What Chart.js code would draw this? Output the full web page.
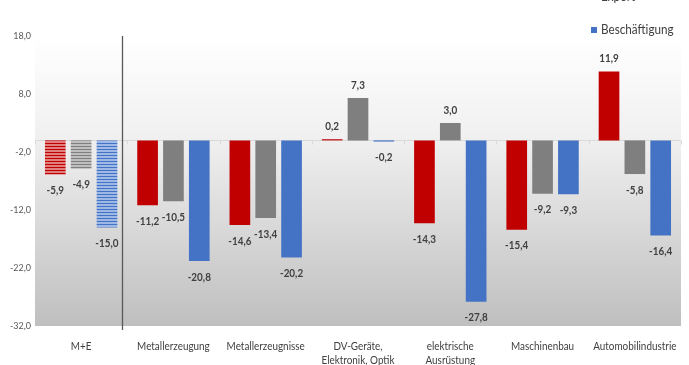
<!DOCTYPE html>
<html>
<head>
<meta charset="utf-8">
<script src="https://cdn.jsdelivr.net/npm/chart.js@4.4.1/dist/chart.umd.min.js"></script>
<style>
  html, body { margin: 0; padding: 0; background: #fff; }
  #wrap { width: 689px; height: 365px; position: relative; }
</style>
</head>
<body>
<div id="wrap"><canvas id="chart"></canvas></div>
<script>
// Daten
const categories = [
  "M+E",
  "Metallerzeugung",
  "Metallerzeugnisse",
  ["DV-Geräte,", "Elektronik, Optik"],
  ["elektrische", "Ausrüstung"],
  "Maschinenbau",
  "Automobilindustrie",
];
const umsatzValues = [-5.9, -11.2, -14.6, 0.2, -14.3, -15.4, 11.9];
const exportValues = [-4.9, -10.5, -13.4, 7.3, 3.0, -9.2, -5.8];
const beschaeftigungValues = [-15.0, -20.8, -20.2, -0.2, -27.8, -9.3, -16.4];
const yTicks = [-32, -22, -12, -2, 8, 18];

const FONT = "Lato, 'Open Sans', sans-serif";
const RED = "#c00000";
const GREY = "#7f7f7f";
const BLUE = "#4472c4";

// Streifenmuster für die M+E-Balken
function stripes(color, light) {
  const c = document.createElement("canvas");
  c.width = 4;
  c.height = 3;
  const g = c.getContext("2d");
  g.fillStyle = light;
  g.fillRect(0, 0, 4, 3);
  g.fillStyle = color;
  g.fillRect(0, 2, 4, 1);
  return g.createPattern(c, "repeat");
}

function barColor(color, light) {
  const pat = stripes(color, light);
  return (ctx) => (ctx.dataIndex === 0 ? pat : color);
}

const fmt = (v) => v.toFixed(1).replace(".", ",");

// schmale Schrift (wie Calibri) durch horizontales Stauchen
function ctext(ctx, text, x, y, font, color, align, sx = 0.9) {
  ctx.save();
  ctx.font = font;
  ctx.fillStyle = color;
  ctx.textAlign = align;
  ctx.textBaseline = "middle";
  ctx.translate(x, y);
  ctx.scale(sx, 1);
  ctx.fillText(text, 0, 0);
  ctx.restore();
}

const backgroundPlugin = {
  id: "bg",
  beforeDatasetsDraw(chart) {
    const { ctx, chartArea: a, scales } = chart;
    ctx.save();
    const grad = ctx.createLinearGradient(0, a.top, 0, a.bottom);
    grad.addColorStop(0, "#ffffff");
    grad.addColorStop(0.35, "#f0f0f0");
    grad.addColorStop(1, "#bfbfbf");
    ctx.fillStyle = grad;
    ctx.fillRect(a.left, a.top, a.right - a.left, a.bottom - a.top);

    // Nulllinie mit Teilstrichen
    const y0 = Math.round(scales.y.getPixelForValue(0)) + 0.5;
    ctx.strokeStyle = "#d9d9d9";
    ctx.lineWidth = 1;
    ctx.beginPath();
    ctx.moveTo(a.left, y0);
    ctx.lineTo(a.right, y0);
    for (let i = 0; i <= categories.length; i++) {
      const x = Math.round(scales.x.getPixelForValue(i - 0.5)) + 0.5;
      ctx.moveTo(x, y0);
      ctx.lineTo(x, y0 + 4);
    }
    ctx.stroke();
    ctx.restore();

    // Achsenbeschriftungen
    yTicks.forEach((v) => {
      ctext(ctx, fmt(v), a.left - 4, scales.y.getPixelForValue(v),
        "10px " + FONT, "#595959", "right");
    });
    categories.forEach((c, i) => {
      const lines = Array.isArray(c) ? c : [c];
      lines.forEach((t, k) => {
        ctext(ctx, t, scales.x.getPixelForValue(i), a.bottom + 20 + k * 14,
          "11px " + FONT, "#404040", "center");
      });
    });
  },
  afterDatasetsDraw(chart) {
    const { ctx, chartArea: a, scales } = chart;
    ctx.save();
    const x = Math.round(scales.x.getPixelForValue(0.44)) + 0.5;
    ctx.strokeStyle = "#595959";
    ctx.lineWidth = 1.3;
    ctx.beginPath();
    ctx.moveTo(x, a.top);
    ctx.lineTo(x, a.bottom + 4);
    ctx.stroke();
    ctx.restore();

    // Datenbeschriftungen
    chart.data.datasets.forEach((ds, di) => {
      chart.getDatasetMeta(di).data.forEach((bar, i) => {
        const v = ds.data[i];
        const y = v >= 0 ? bar.y - 13 : bar.y + 16;
        ctext(ctx, fmt(v), bar.x, y, "bold 11px " + FONT, "#404040", "center");
      });
    });

    // Legende (oben rechts, teilweise abgeschnitten)
    const legend = [
      { label: "Export", color: GREY, y: -3 },
      { label: "Beschäftigung", color: BLUE, y: 30 },
    ];
    legend.forEach((l) => {
      ctx.fillStyle = l.color;
      ctx.fillRect(591, l.y - 3, 6, 6);
      ctext(ctx, l.label, 601, l.y, "13px " + FONT, "#404040", "left");
    });
  },
};

new Chart(document.getElementById("chart"), {
  type: "bar",
  data: {
    labels: categories,
    datasets: [
      {
        label: "Umsatz",
        data: umsatzValues,
        backgroundColor: barColor(RED, "rgba(222,100,100,0.8)"),
      },
      {
        label: "Export",
        data: exportValues,
        backgroundColor: barColor(GREY, "rgba(185,185,185,0.9)"),
      },
      {
        label: "Beschäftigung",
        data: beschaeftigungValues,
        backgroundColor: barColor(BLUE, "rgba(150,180,230,0.9)"),
      },
    ],
  },
  options: {
    responsive: true,
    maintainAspectRatio: false,
    animation: false,
    categoryPercentage: 0.84,
    barPercentage: 0.8,
    layout: { padding: { top: 36, right: 8, bottom: 31, left: 27 } },
    plugins: {
      legend: { display: false },
      tooltip: { enabled: false },
    },
    scales: {
      x: {
        grid: { display: false },
        border: { display: false },
        ticks: { display: false },
      },
      y: {
        min: -32,
        max: 18,
        afterBuildTicks(scale) {
          scale.ticks = yTicks.map((v) => ({ value: v }));
        },
        grid: { display: false },
        border: { display: false },
        ticks: { display: false },
      },
    },
  },
  plugins: [backgroundPlugin],
});
</script>
</body>
</html>
